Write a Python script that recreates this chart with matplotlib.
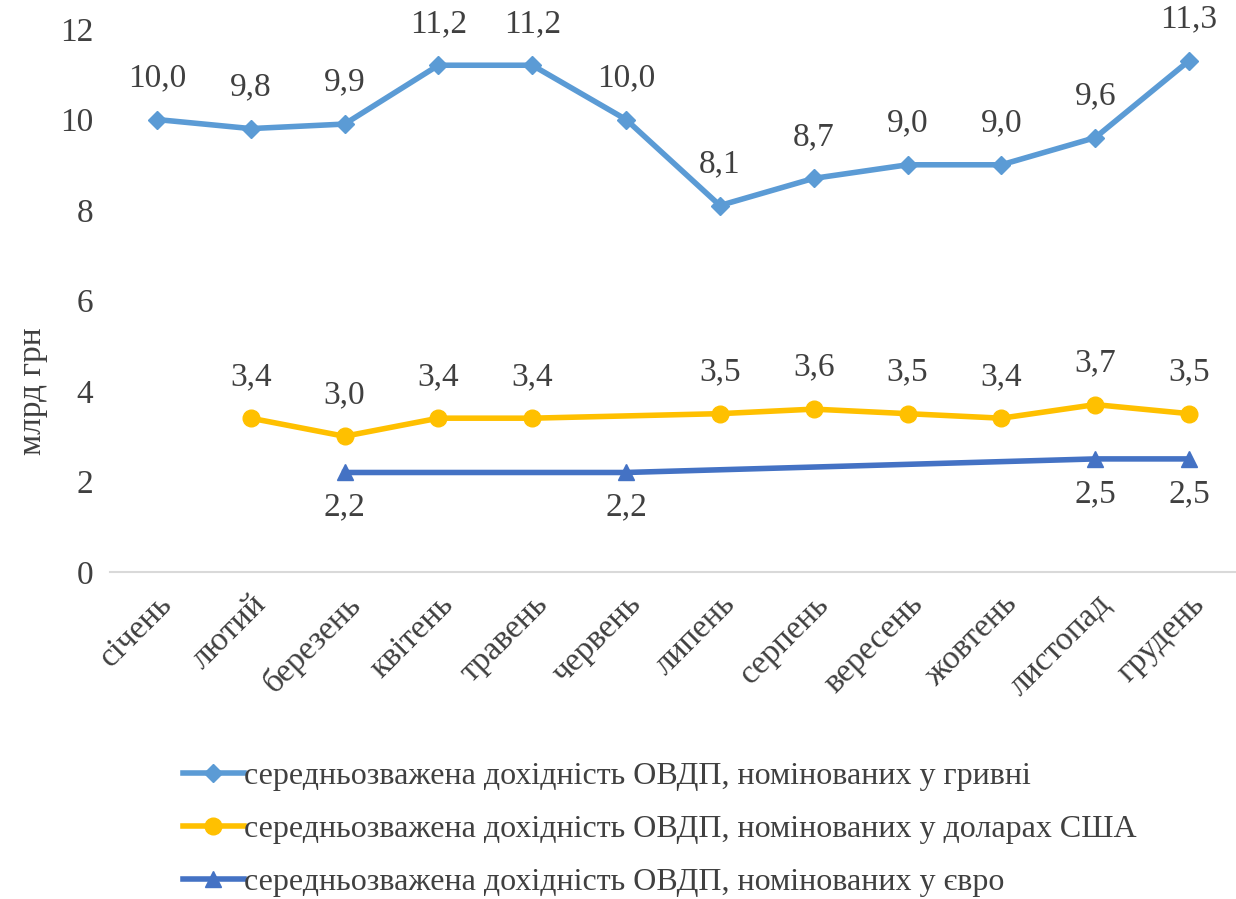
import numpy as np
import matplotlib.pyplot as plt

plt.rcParams['font.family'] = ['Liberation Serif', 'DejaVu Serif']

months = ['січень', 'лютий', 'березень', 'квітень', 'травень', 'червень',
          'липень', 'серпень', 'вересень', 'жовтень', 'листопад', 'грудень']
uah = [10.0, 9.8, 9.9, 11.2, 11.2, 10.0, 8.1, 8.7, 9.0, 9.0, 9.6, 11.3]
usd = [np.nan, 3.4, 3.0, 3.4, 3.4, np.nan, 3.5, 3.6, 3.5, 3.4, 3.7, 3.5]
eur = [np.nan, np.nan, 2.2, np.nan, np.nan, 2.2, np.nan, np.nan, np.nan, np.nan, 2.5, 2.5]

names = ['середньозважена дохідність ОВДП, номінованих у гривні',
         'середньозважена дохідність ОВДП, номінованих у доларах США',
         'середньозважена дохідність ОВДП, номінованих у євро']
colors = ['#5B9BD5', '#FFC000', '#4472C4']
markers = ['D', 'o', '^']
msizes = [9, 12, 11]
label_pos = ['above', 'above', 'below']
txt = '#404040'
fs = 24

fig = plt.figure(figsize=(12.36, 8.99), dpi=100)
ax = fig.add_axes([0.089, 0.3637, 0.911, 0.604])

x = np.arange(len(months))
for vals, name, c, m, ms, pos in zip([uah, usd, eur], names, colors, markers, msizes, label_pos):
    v = np.array(vals, dtype=float)
    ok = ~np.isnan(v)
    ax.plot(x[ok], v[ok], color=c, lw=4, marker=m, ms=ms, label=name, zorder=3)
    for xi, yi in zip(x[ok], v[ok]):
        s = f'{yi:.1f}'.replace('.', ',')
        if pos == 'above':
            ax.annotate(s, (xi, yi), xytext=(0, 19), textcoords='offset points',
                        ha='center', va='bottom', fontsize=fs, color=txt)
        else:
            ax.annotate(s, (xi, yi), xytext=(0, -14), textcoords='offset points',
                        ha='center', va='top', fontsize=fs, color=txt)

ax.set_xlim(-0.5, 11.5)
ax.set_ylim(0, 12)
ax.set_yticks(range(0, 13, 2))
ax.set_xticks(x)
ax.set_xticklabels(months, rotation=45, ha='right', rotation_mode='anchor', fontsize=fs, color=txt)
ax.tick_params(axis='y', labelsize=fs, colors=txt, length=0, pad=12)
ax.tick_params(axis='x', length=0, pad=12)
for sp in ['top', 'right', 'left']:
    ax.spines[sp].set_visible(False)
ax.spines['bottom'].set_color('#D9D9D9')
ax.spines['bottom'].set_linewidth(1.5)
ax.set_ylabel('млрд грн', fontsize=fs, color=txt)
ax.yaxis.set_label_coords(-0.055, 0.333)

fig.legend(loc='upper left', bbox_to_anchor=(0.148, 0.153), frameon=False,
           fontsize=23, labelcolor=txt, handlelength=1.9, handletextpad=0.0,
           labelspacing=0.75, borderaxespad=0, borderpad=0)

fig.savefig('out.png', dpi=100)
